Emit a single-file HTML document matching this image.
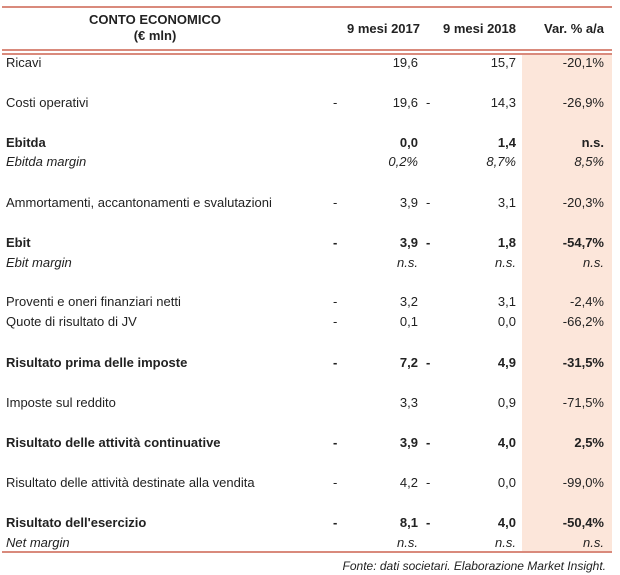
<!DOCTYPE html>
<html><head><meta charset="utf-8">
<style>
body{margin:0;width:620px;height:575px;background:#fff;position:relative;font-family:"Liberation Sans",sans-serif;color:#222;overflow:hidden}
.a{position:absolute;font-size:13px;line-height:16px;white-space:nowrap}
.r{text-align:right}
.b{font-weight:bold}
.i{font-style:italic}
.line{position:absolute;left:2px;width:610px;background:#d98a7c}
</style></head><body>
<div style="position:absolute;left:522px;top:55px;width:90px;height:496px;background:#fce6da"></div>
<div class="line" style="top:6px;height:2px"></div>
<div class="line" style="top:49px;height:2px"></div>
<div class="line" style="top:53px;height:2px"></div>
<div class="line" style="top:551px;height:2px"></div>
<div class="a b" style="left:40px;top:12px;width:230px;text-align:center">CONTO ECONOMICO<br>(€ mln)</div>
<div class="a b r" style="left:320px;top:21px;width:100px">9 mesi 2017</div>
<div class="a b r" style="left:420px;top:21px;width:96px">9 mesi 2018</div>
<div class="a b r" style="left:500px;top:21px;width:104px">Var. % a/a</div>
<div id="rows"></div>
<div class="a i" style="right:14px;top:558px;font-size:12px">Fonte: dati societari. Elaborazione Market Insight.</div>
<script>
const labels=["Ricavi","Costi operativi","Ebitda","Ebitda margin","Ammortamenti, accantonamenti e svalutazioni","Ebit","Ebit margin","Proventi e oneri finanziari netti","Quote di risultato di JV","Risultato prima delle imposte","Imposte sul reddito","Risultato delle attività continuative","Risultato delle attività destinate alla vendita","Risultato dell'esercizio","Net margin"];
const v2017=["19,6","19,6","0,0","0,2%","3,9","3,9","n.s.","3,2","0,1","7,2","3,3","3,9","4,2","8,1","n.s."];
const v2018=["15,7","14,3","1,4","8,7%","3,1","1,8","n.s.","3,1","0,0","4,9","0,9","4,0","0,0","4,0","n.s."];
const vvar=["-20,1%","-26,9%","n.s.","8,5%","-20,3%","-54,7%","n.s.","-2,4%","-66,2%","-31,5%","-71,5%","2,5%","-99,0%","-50,4%","n.s."];
const neg1=[0,1,0,0,1,1,0,1,1,1,0,1,1,1,0];
const neg2=[0,1,0,0,1,1,0,0,0,1,0,1,1,1,0];
const style=["","","b","i","","b","i","","","b","","b","","b","i"];
const ys=[55,95,135,154,195,235,255,294,314,355,395,435,475,515,535];
const c=document.getElementById('rows');
function add(txt,cls,left,w,top,name){
 const d=document.createElement('div');
 d.className='a '+cls;d.textContent=txt;
 d.style.left=left+'px';d.style.top=top+'px';if(w)d.style.width=w+'px';
 
 
 c.appendChild(d);
}
labels.forEach((l,k)=>{
 const s=style[k],y=ys[k];
 add(l,s,6,0,y,'row-label');
 add(v2017[k],s+' r',340,78,y,'value-2017');
 add(v2018[k],s+' r',440,76,y,'value-2018');
 add(vvar[k],s+' r',500,104,y,'value-var');
 if(neg1[k])add('-',s,333,0,y,'sign-2017');
 if(neg2[k])add('-',s,426,0,y,'sign-2018');
});
</script>
</body></html>
